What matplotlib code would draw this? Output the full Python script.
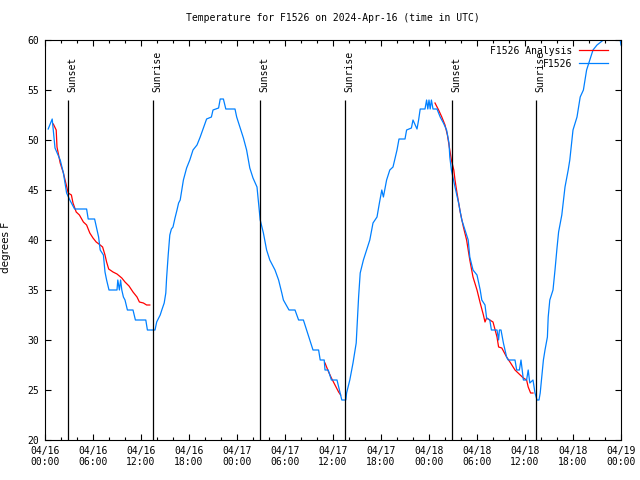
import matplotlib
matplotlib.use("Agg")
import matplotlib.pyplot as plt
import numpy as np

# hours since 2024-04-16 00:00 UTC
obs_hours = [0.4, 0.9, 1.25, 1.9, 2.3, 2.7, 3.1, 3.7, 5.2, 5.4, 6.2, 6.7, 6.9, 7.3, 7.5, 7.7,
             8.0, 9.0, 9.1, 9.3, 9.45, 9.6, 9.8, 10.0, 10.3, 11.0, 11.3, 12.6, 12.8, 13.75,
             13.96, 14.4, 14.6, 14.9, 15.1, 15.2, 15.4, 15.6, 15.8, 16.0, 16.25, 16.5, 16.7,
             16.9, 17.3, 17.7, 18.1, 18.5, 19.0, 19.4, 19.8, 20.2, 20.8, 21.0, 21.7, 21.9,
             22.3, 22.6, 23.75, 23.96, 24.4, 24.8, 25.2, 25.6, 26.0, 26.5, 26.7, 26.9, 27.3,
             27.7, 28.1, 28.75, 29.2, 29.6, 29.8, 30.5, 31.25, 31.7, 32.3, 32.7, 33.1, 33.5,
             34.2, 34.4, 34.9, 35.0, 35.4, 35.8, 36.5, 36.8, 37.1, 37.6, 37.7, 38.1, 38.5,
             38.9, 39.0, 39.2, 39.4, 39.8, 40.2, 40.6, 41.0, 41.5, 41.8, 42.1, 42.3, 42.7,
             43.1, 43.5, 44.0, 44.25, 45.0, 45.2, 45.8, 46.0, 46.5, 46.7, 46.9, 47.5, 47.7,
             47.85, 48.0, 48.15, 48.3, 48.5, 49.0, 49.4, 49.8, 50.2, 50.5, 50.6, 50.8, 51.25,
             51.7, 52.1, 52.5, 52.9, 53.1, 53.5, 54.0, 54.4, 54.6, 55.0, 55.2, 55.6, 55.8,
             56.5, 56.7, 56.8, 57.0, 57.3, 57.7, 57.9, 58.75, 58.96, 59.3, 59.5, 59.8, 60.2,
             60.4, 60.6, 61.0, 61.25, 61.5, 61.75, 61.9, 62.1, 62.3, 62.5, 62.8, 62.9, 63.1,
             63.5, 63.75, 64.0, 64.2, 64.6, 65.0, 65.4, 65.6, 66.0, 66.5, 66.9, 67.3, 67.7,
             68.1, 68.5, 69.0, 69.8, 70.0, 70.2, 70.4, 70.6, 71.8, 71.9, 72.0]
obs_temp = [51.1, 52.1, 49.2, 48.0, 46.7, 44.7, 44.0, 43.1, 43.1, 42.1, 42.1, 40.3, 39.0, 38.5, 36.8, 36.0,
            35.0, 35.0, 36.0, 35.0, 36.0, 35.0, 34.3, 34.0, 33.0, 33.0, 32.0, 32.0, 31.0, 31.0,
            31.8, 32.5, 33.0, 33.7, 34.7, 36.2, 38.5, 40.5, 41.1, 41.3, 42.2, 43.0, 43.7,
            44.0, 46.0, 47.2, 48.0, 49.0, 49.5, 50.3, 51.2, 52.1, 52.3, 53.0, 53.2, 54.1,
            54.1, 53.1, 53.1, 52.3, 51.2, 50.2, 49.0, 47.2, 46.2, 45.3, 43.7, 42.0, 40.7,
            39.0, 38.0, 37.0, 36.0, 34.7, 34.0, 33.0, 33.0, 32.0, 32.0, 31.0, 30.0, 29.0,
            29.0, 28.0, 28.0, 27.0, 27.0, 26.0, 26.0, 25.0, 24.0, 24.0, 24.7, 26.0, 27.7,
            29.7, 31.3, 34.3, 36.7, 38.0, 39.0, 40.0, 41.7, 42.3, 43.7, 45.0, 44.3, 46.0,
            47.0, 47.3, 49.0, 50.1, 50.1, 51.0, 51.2, 52.0, 51.1, 52.0, 53.1, 53.1, 54.0,
            53.1, 54.0, 53.1, 54.0, 53.1, 53.1, 52.3, 51.7, 51.0, 49.7, 48.3, 47.0, 45.3,
            43.7, 42.0, 41.0, 40.0, 38.3, 37.0, 36.5, 35.0, 34.0, 33.5, 32.2, 32.0, 31.0,
            31.0, 30.0, 31.0, 31.0, 29.7, 28.3, 28.0, 28.0, 27.0, 27.0, 28.0, 26.0, 26.0,
            27.0, 25.7, 26.0, 24.7, 24.0, 24.0, 24.7, 26.3, 28.0, 29.0, 30.3, 32.3, 34.0,
            35.0, 37.0, 39.2, 40.8, 42.5, 45.3, 47.0, 48.0, 51.0, 52.3, 54.3, 55.0, 57.0,
            58.0, 59.0, 59.5, 60.0, 61.0, 60.0, 61.0, 61.0, 61.0, 60.0, 59.5]

# analysis (three pieces, separated by gaps)
ana_hours = [1.04, 1.4, 1.5, 1.9, 2.3, 2.6, 2.9, 3.3, 3.5, 3.9, 4.3, 4.8, 5.2, 5.6, 6.0, 6.4,
             6.9, 7.2, 7.5, 7.7, 7.96, 8.5, 9.0, 9.6, 10.0, 10.5, 11.0, 11.5, 11.8, 12.3, 12.7, 13.1,
             np.nan,
             35.0, 35.4, 35.8, 36.25, 36.7, 36.96,
             np.nan,
             48.75, 49.2, 49.6, 50.0, 50.3, 50.5, 50.8, 51.1, 51.25, 51.5, 51.9, 52.3, 52.7,
             53.1, 53.5, 54.0, 54.4, 54.8, 55.0, 55.2, 56.0, 56.5, 56.7, 57.1, 57.7, 58.2,
             58.75, 59.4, 59.8, 60.2, 60.4, 60.7, 61.0]
ana_temp = [51.6, 51.0, 49.3, 47.7, 46.7, 45.7, 44.7, 44.5, 43.7, 42.8, 42.5, 41.8, 41.5, 40.7, 40.2, 39.8,
            39.5, 39.3, 38.5, 37.8, 37.1, 36.8, 36.6, 36.2, 35.8, 35.4, 34.8, 34.3, 33.8, 33.7, 33.5, 33.5,
            np.nan,
            27.7, 26.9, 26.2, 25.5, 24.8, 24.5,
            np.nan,
            53.7, 53.0, 52.3, 51.5, 50.5, 49.5, 48.0, 47.0, 46.0, 44.7, 42.8, 41.3, 40.0,
            38.0, 36.3, 35.0, 33.7, 32.5, 31.8, 32.2, 31.8, 30.3, 29.3, 29.2, 28.3, 27.7,
            27.0, 26.5, 26.2, 26.0, 25.3, 24.7, 24.7]

sun_hours = [2.875, 13.5, 26.875, 37.5, 50.875, 61.375]
sun_labels = ["Sunset", "Sunrise", "Sunset", "Sunrise", "Sunset", "Sunrise"]

tick_hours = list(range(0, 73, 6))
tick_labels = [f"04/{16 + h // 24:02d}\n{h % 24:02d}:00" for h in tick_hours]

plt.rcParams['font.family'] = ['DejaVu Sans Mono']
plt.rcParams['font.size'] = 7

fig = plt.figure(figsize=(6.4, 4.8), dpi=100)
ax = fig.add_axes([45 / 640, 40 / 480, 576 / 640, 400 / 480])

ax.plot(ana_hours, ana_temp, color='#ff0000', lw=0.9, label='F1526 Analysis')
ax.plot(obs_hours, obs_temp, color='#0080ff', lw=0.9, label='F1526')

ax.vlines(sun_hours, 20, 54, color='black', lw=0.9)
for h, lab in zip(sun_hours, sun_labels):
    ax.text(h - 0.05, 54.8, lab, rotation=90, ha='left', va='bottom')

ax.set_xlim(0, 72)
ax.set_ylim(20, 60)
ax.set_xticks(tick_hours)
ax.set_xticklabels(tick_labels)
ax.set_xticks(range(0, 73, 2), minor=True)
ax.set_yticks(range(20, 61, 5))
ax.tick_params(which='both', direction='in', top=True, right=True, width=0.8)
ax.tick_params(which='major', length=4.5, pad=4)
ax.tick_params(which='minor', length=2.5)
for s in ax.spines.values():
    s.set_linewidth(0.8)

ax.set_ylabel("degrees F", family='DejaVu Sans', fontsize=7.5)
ax.yaxis.set_label_coords(-34 / 576, 0.4825)
ax.set_title("Temperature for F1526 on 2024-Apr-16 (time in UTC)", fontsize=7, pad=14)

ax.legend(loc='upper right', bbox_to_anchor=(1 - 9 / 576, 1 - 2 / 400), frameon=False,
          markerfirst=False, handlelength=3.0, handletextpad=0.7, labelspacing=0.3,
          borderaxespad=0.2, borderpad=0.2)

plt.savefig("out.png", dpi=100)
